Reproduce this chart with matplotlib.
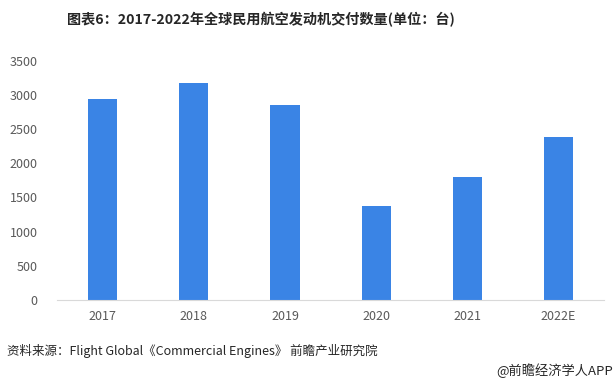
import matplotlib
matplotlib.use("Agg")
import matplotlib.pyplot as plt

plt.rcParams['font.family'] = ['Noto Sans CJK SC', 'DejaVu Sans']

years = ["2017", "2018", "2019", "2020", "2021", "2022E"]
deliveries = [2940, 3175, 2855, 1370, 1805, 2380]
y_ticks = [0, 500, 1000, 1500, 2000, 2500, 3000, 3500]

fig = plt.figure(figsize=(6.14, 3.83), dpi=100)
ax = fig.add_axes([0.093, 0.217, 0.891, 0.624])

ax.bar(range(len(years)), deliveries, width=0.32, color='#3A84E5')
ax.set_xlim(-0.5, len(years) - 0.5)
ax.set_ylim(0, 3500)
ax.set_yticks(y_ticks)
ax.set_xticks(range(len(years)))
ax.set_xticklabels(years)

for s in ['top', 'right', 'left']:
    ax.spines[s].set_visible(False)
ax.spines['bottom'].set_color('#d9d9d9')
ax.tick_params(axis='both', length=0, labelsize=9, colors='#595959')
ax.tick_params(axis='y', pad=14)
ax.tick_params(axis='x', pad=7)

fig.text(0.425, 0.948, "图表6：2017-2022年全球民用航空发动机交付数量(单位：台)",
         ha='center', va='center', fontsize=10.2, fontweight='bold', color='#262626')
fig.text(0.012, 0.083, "资料来源：Flight Global《Commercial Engines》 前瞻产业研究院",
         ha='left', va='center', fontsize=9, color='#262626')
fig.text(0.998, 0.033, "@前瞻经济学人APP", ha='right', va='center',
         fontsize=9.5, color='#262626')

fig.savefig("out.png", dpi=100)
